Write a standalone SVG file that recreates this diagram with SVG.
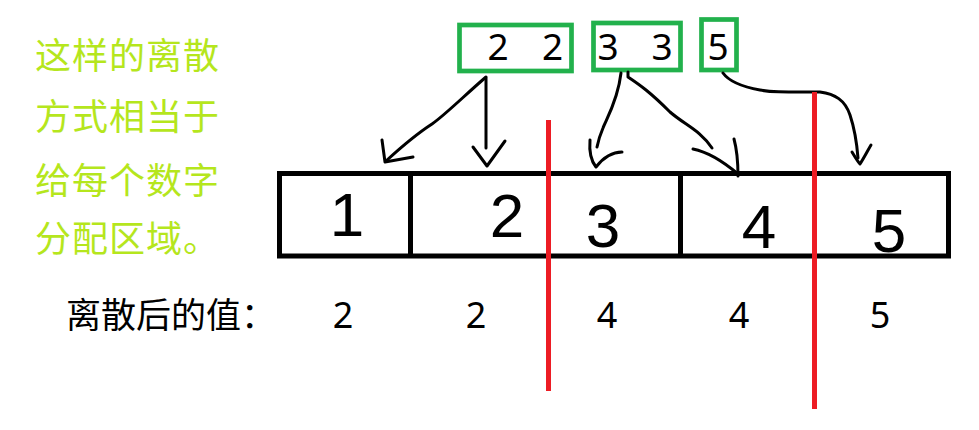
<svg xmlns="http://www.w3.org/2000/svg" width="979" height="430" viewBox="0 0 979 430">
<style>
.note{font-family:"Noto Sans CJK SC","Noto Sans",sans-serif;font-size:36px;letter-spacing:1px;fill:#b5e61d}
.label{font-family:"Noto Sans CJK SC","Noto Sans",sans-serif;font-size:35px;fill:#000}
.val{font-family:"Noto Sans","Noto Sans CJK SC",sans-serif;font-size:36px;fill:#000;text-anchor:middle}
.src{font-family:"Noto Sans","Noto Sans CJK SC",sans-serif;font-size:37px;fill:#000;text-anchor:middle}
.gbox{fill:none;stroke:#22b14c;stroke-width:4.7}
.cell{fill:none;stroke:#000;stroke-width:5}
.hand{font-family:"Liberation Sans",Arial,sans-serif;font-size:62px;fill:#000;text-anchor:middle}
.red{stroke:#ed1c24;stroke-width:5}
.conn path{fill:none;stroke:#000;stroke-width:3;stroke-linecap:round;stroke-linejoin:round}
</style>
<rect width="979" height="430" fill="#fff"/>
<g id="note">
<text class="note" x="35" y="69">这样的离散</text>
<text class="note" x="35" y="130">方式相当于</text>
<text class="note" x="35" y="194">给每个数字</text>
<text class="note" x="35" y="252">分配区域。</text>
</g>
<g id="src22">
<rect class="gbox" x="459.5" y="25" width="112" height="46"/>
<text class="src" x="498" y="60">2</text>
<text class="src" x="552.5" y="60">2</text>
</g>
<g id="src33">
<rect class="gbox" x="593.5" y="23" width="87" height="47"/>
<text class="src" x="608" y="60">3</text>
<text class="src" x="662" y="60">3</text>
</g>
<g id="src5">
<rect class="gbox" x="701.5" y="19.5" width="35" height="50.5"/>
<text class="src" x="718" y="60">5</text>
</g>
<g id="cells">
<rect class="cell" x="279.5" y="173.5" width="669" height="82.5"/>
<line class="cell" x1="410.5" y1="173.5" x2="410.5" y2="256"/>
<line class="cell" x1="680.5" y1="173.5" x2="680.5" y2="256"/>
<text class="hand" x="347" y="236">1</text>
<text class="hand" x="507" y="237">2</text>
<text class="hand" x="603" y="247">3</text>
<text class="hand" x="759" y="248">4</text>
<text class="hand" x="889" y="252">5</text>
</g>
<g id="connectors" class="conn">
<path d="M486,77 C465,95 445,115 432,124 C415,135 398,150 386,161"/>
<path d="M382,140 L385,162 L413,157"/>
<path d="M486,78 L486,148"/>
<path d="M473,147 L487,166 L505,141"/>
<path d="M621,73 C618,100 606,120 603,128 C600,135 598,142 597,147"/>
<path d="M590,140 C589,152 592,162 596,167 C603,158 612,152 622,152"/>
<path d="M628,72 L628,77 C640,85 650,92 670,112 C685,125 700,130 712,148"/>
<path d="M693,149 C708,152 725,163 738,174"/>
<path d="M734,139 C737,150 738,162 738,176"/>
<path d="M723,73 C728,80 738,86 760,90 C770,92 780,92 820,92 C835,94 845,100 850,115 C855,130 857,145 858,158"/>
<path d="M852,152 C855,157 858,162 860,164 C864,158 868,150 871,145"/>
</g>
<g id="dividers">
<line class="red" x1="548.5" y1="120" x2="548.5" y2="391"/>
<line class="red" x1="814.5" y1="92" x2="814.5" y2="409"/>
</g>
<g id="result">
<text class="label" x="66" y="328">离散后的值：</text>
<text class="val" x="343" y="328">2</text>
<text class="val" x="476" y="328">2</text>
<text class="val" x="607" y="328">4</text>
<text class="val" x="739" y="328">4</text>
<text class="val" x="880" y="328">5</text>
</g>
</svg>
